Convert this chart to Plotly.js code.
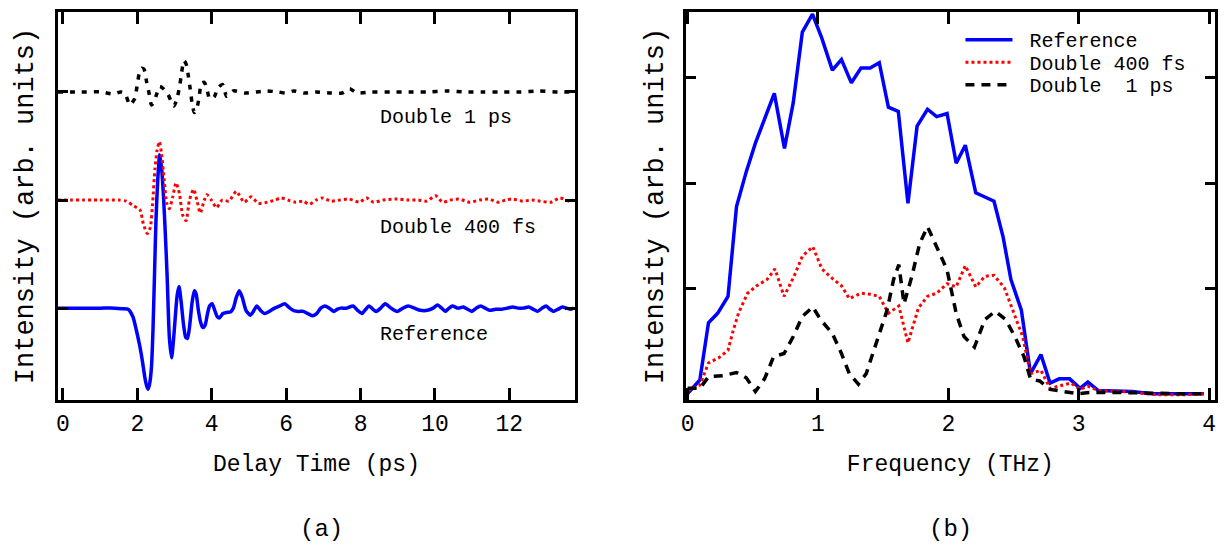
<!DOCTYPE html>
<html>
<head>
<meta charset="utf-8">
<script src="https://cdn.plot.ly/plotly-3.0.1.min.js"></script>
<style>html,body{margin:0;padding:0;background:#fff;}</style>
</head>
<body>
<div id="chart" style="width:1229px;height:555px;"></div>
<script>
// ---------- (a) time domain ----------
const refTime = [-0.14,0.5,1.0,1.4,1.6,1.75,1.88,1.97,2.07,2.14,2.20,2.25,2.29,2.33,2.38,2.42,2.46,2.50,2.55,2.60,2.65,2.70,2.75,2.80,2.86,2.92,2.97,3.02,3.07,3.12,3.18,3.24,3.30,3.35,3.41,3.47,3.53,3.58,3.64,3.70,3.76,3.82,3.88,3.94,4.01,4.08,4.15,4.21,4.30,4.40,4.50,4.58,4.66,4.74,4.82,4.92,5.04,5.12,5.21,5.31,5.42,5.55,5.69,5.83,5.96,6.10,6.22,6.34,6.46,6.58,6.70,6.82,6.93,7.04,7.16,7.28,7.38,7.47,7.63,7.80,7.92,8.04,8.14,8.23,8.33,8.42,8.54,8.66,8.82,8.99,9.14,9.28,9.45,9.61,9.80,9.95,10.07,10.18,10.28,10.38,10.47,10.62,10.76,10.88,10.99,11.11,11.23,11.35,11.47,11.63,11.80,11.95,12.09,12.23,12.37,12.52,12.64,12.76,12.88,12.99,13.09,13.19,13.31,13.43,13.54,13.64,13.72];
const refSignal = [0,0,0,0,-0.005,-0.01,-0.08,-0.2,-0.36,-0.5,-0.64,-0.72,-0.75,-0.70,-0.54,-0.2,0.3,0.81,1.2,1.42,1.3,1.05,0.7,0.3,-0.27,-0.46,-0.3,-0.08,0.12,0.2,0.05,-0.15,-0.27,-0.28,-0.15,0.05,0.16,0.13,-0.02,-0.13,-0.18,-0.16,-0.06,0.02,0.04,-0.02,-0.08,-0.09,-0.05,-0.04,-0.035,0.0,0.1,0.16,0.1,-0.02,-0.065,-0.03,0.02,-0.02,-0.05,-0.03,0.0,0.02,0.04,0.0,-0.025,-0.03,-0.03,-0.05,-0.07,-0.05,0.0,0.02,0.0,-0.03,-0.01,0.0,0.0,0.02,-0.02,-0.05,-0.01,0.02,-0.01,-0.03,0.0,0.04,0.0,-0.03,0.0,0.02,0.0,-0.02,-0.02,0.0,0.03,0.0,-0.03,0.0,0.02,0.0,0.01,-0.01,-0.03,0.0,0.02,0.0,-0.02,-0.01,-0.01,0.0,0.01,0.0,0.0,0.01,-0.01,-0.03,0.0,0.02,-0.01,-0.03,-0.01,0.01,0.0,-0.01,0.0];

const d400Time = [-0.14,1.0,1.5,1.7,1.88,2.07,2.16,2.27,2.35,2.41,2.47,2.53,2.59,2.65,2.72,2.79,2.86,2.95,3.04,3.13,3.22,3.31,3.40,3.51,3.60,3.69,3.80,3.87,3.99,4.13,4.28,4.46,4.66,4.87,5.06,5.25,5.49,5.70,5.87,6.05,6.25,6.45,6.63,6.80,6.97,7.21,7.45,7.69,7.97,8.16,8.35,8.6,8.92,9.3,9.55,9.78,10.02,10.21,10.42,10.64,10.93,11.2,11.45,11.69,11.9,12.07,12.36,12.6,12.83,13.12,13.36,13.6,13.72];
const d400Signal = [0,0,0,-0.01,-0.05,-0.09,-0.22,-0.31,-0.25,-0.03,0.28,0.46,0.54,0.43,0.19,-0.03,-0.08,0.03,0.16,0.06,-0.14,-0.19,0.0,0.10,0.0,-0.12,0.0,0.05,0.0,-0.07,0.0,-0.01,0.08,-0.02,0.03,-0.03,-0.02,0.0,0.02,0.0,-0.02,-0.01,-0.04,0.0,0.02,-0.01,0.0,0.01,-0.02,0.02,-0.02,0.0,0.01,0.0,0.0,-0.01,0.04,-0.02,0.0,0.01,-0.02,0.0,0.01,-0.02,0.0,0.01,-0.01,0.0,-0.01,-0.02,0.02,-0.01,0.0];

const d1Time = [-0.14,0.5,1.04,1.35,1.55,1.66,1.80,1.93,1.99,2.05,2.12,2.18,2.25,2.32,2.38,2.45,2.51,2.6,2.70,2.82,2.98,3.06,3.14,3.19,3.25,3.31,3.37,3.42,3.47,3.53,3.6,3.66,3.72,3.80,3.87,3.94,4.06,4.17,4.29,4.40,4.58,4.89,5.19,5.47,5.79,6.0,6.2,6.5,6.8,7.2,7.5,7.71,7.9,8.3,8.8,9.3,9.8,10.3,10.8,11.3,11.8,12.3,12.8,13.3,13.72];
const d1Signal = [0,0,0,-0.02,0,-0.01,-0.12,-0.06,0.05,0.17,0.22,0.21,0.09,-0.02,-0.12,-0.09,-0.03,0.05,0.03,-0.02,-0.13,-0.07,0.06,0.18,0.29,0.26,0.15,0.03,-0.1,-0.19,-0.15,-0.05,0.08,0.09,0.03,-0.06,-0.05,0.04,0.07,-0.04,0.01,-0.01,0.0,0.01,0.0,-0.01,0.01,-0.01,0.0,-0.01,-0.01,0.03,-0.01,0.0,0.0,0.0,0.0,0.01,0.0,0.0,0.0,0.0,0.01,0.0,0.0];

const timeTicks = [0,2,4,6,8,10,12];
const traceOffsets = {ref:0, d400:1, d1:2};

// ---------- (b) frequency domain ----------
const refFreq = [0.0,0.094,0.16,0.23,0.31,0.375,0.45,0.52,0.665,0.743,0.81,0.88,0.958,1.03,1.11,1.18,1.256,1.33,1.40,1.47,1.54,1.616,1.69,1.76,1.84,1.91,1.99,2.06,2.13,2.21,2.28,2.35,2.42,2.48,2.56,2.63,2.71,2.78,2.85,2.93,3.01,3.07,3.15,3.41,3.56,3.96];
const refSpec = [0.01,0.14,0.68,0.77,0.93,1.78,2.11,2.38,2.85,2.33,2.76,3.43,3.60,3.37,3.07,3.17,2.95,3.09,3.09,3.14,2.72,2.68,1.81,2.54,2.70,2.63,2.66,2.19,2.36,1.91,1.87,1.83,1.49,1.09,0.80,0.20,0.38,0.11,0.15,0.15,0.06,0.12,0.04,0.03,0.01,0.01];

const d400Freq = [0.0,0.094,0.16,0.24,0.31,0.35,0.39,0.46,0.53,0.61,0.67,0.74,0.82,0.88,0.96,1.03,1.10,1.18,1.24,1.33,1.40,1.47,1.54,1.62,1.69,1.77,1.84,1.91,1.99,2.06,2.13,2.21,2.28,2.35,2.43,2.50,2.57,2.63,2.71,2.78,2.85,2.94,3.01,3.07,3.15,3.35,3.60,3.83,3.96];
const d400Spec = [0.04,0.09,0.30,0.35,0.42,0.61,0.77,0.96,1.03,1.09,1.19,0.93,1.13,1.31,1.40,1.19,1.11,1.03,0.91,0.96,0.95,0.93,0.77,0.84,0.49,0.82,0.93,0.96,1.05,1.02,1.22,1.02,1.12,1.13,1.01,0.77,0.55,0.20,0.23,0.06,0.08,0.11,0.05,0.08,0.04,0.03,0.0,0.0,0.01];

const d1Freq = [0.0,0.094,0.16,0.27,0.375,0.45,0.52,0.59,0.66,0.74,0.81,0.88,0.96,1.02,1.11,1.18,1.24,1.31,1.37,1.45,1.53,1.58,1.62,1.66,1.72,1.78,1.84,1.91,1.99,2.06,2.12,2.20,2.28,2.36,2.44,2.51,2.58,2.63,2.70,2.78,2.87,2.99,3.08,3.35,3.76,3.96];
const d1Spec = [0.06,0.06,0.17,0.18,0.21,0.16,0.03,0.15,0.36,0.39,0.55,0.74,0.83,0.71,0.58,0.39,0.20,0.10,0.20,0.49,0.80,1.09,1.23,0.86,1.12,1.43,1.59,1.40,1.18,0.77,0.55,0.45,0.71,0.79,0.71,0.55,0.36,0.15,0.13,0.05,0.03,0.01,0.02,0.02,0.01,0.01];

const freqTicks = [0,1,2,3,4];
const seriesNames = ['Reference', 'Double 400 fs', 'Double  1 ps'];
const panelLabels = ['(a)', '(b)'];

const FONT = 'Liberation Mono, DejaVu Sans Mono, monospace';
const BLUE = 'rgb(0,0,255)', RED = 'rgb(255,0,0)', BLACK = 'rgb(0,0,0)';

function shift(arr, off) { return arr.map(v => v + off); }

const traces = [
  {x: refTime, y: shift(refSignal, traceOffsets.ref), xaxis:'x', yaxis:'y', mode:'lines', showlegend:false,
   line:{color:BLUE, width:3.5, shape:'spline', smoothing:0.6}},
  {x: d400Time, y: shift(d400Signal, traceOffsets.d400), xaxis:'x', yaxis:'y', mode:'lines', showlegend:false,
   line:{color:RED, width:3, dash:'dot', shape:'spline', smoothing:0.6}},
  {x: d1Time, y: shift(d1Signal, traceOffsets.d1), xaxis:'x', yaxis:'y', mode:'lines', showlegend:false,
   line:{color:BLACK, width:3.5, dash:'5px,7px', shape:'spline', smoothing:0.6}},
  {x: refFreq, y: refSpec, xaxis:'x2', yaxis:'y2', mode:'lines', name: seriesNames[0],
   line:{color:BLUE, width:3.5}},
  {x: d400Freq, y: d400Spec, xaxis:'x2', yaxis:'y2', mode:'lines', name: seriesNames[1],
   line:{color:RED, width:3, dash:'dot'}},
  {x: d1Freq, y: d1Spec, xaxis:'x2', yaxis:'y2', mode:'lines', name: seriesNames[2],
   line:{color:BLACK, width:3.5, dash:'9px,7px'}}
];

const axisCommon = {
  showline:true, linewidth:3, linecolor:BLACK, mirror:'ticks',
  ticks:'inside', tickwidth:3, tickcolor:BLACK,
  showgrid:false, zeroline:false,
  tickfont:{family:FONT, size:23, color:BLACK}
};

const layout = {
  width:1229, height:555,
  margin:{l:0, r:0, t:12, b:155},
  paper_bgcolor:'#fff', plot_bgcolor:'#fff',
  font:{family:FONT, color:BLACK},
  xaxis: Object.assign({}, axisCommon, {
    domain:[0.047, 0.468], range:[-0.14, 13.77], tickvals: timeTicks, ticklen:12,
    anchor:'y',
    title:{text:'Delay Time (ps)', font:{family:FONT, size:23, color:BLACK}, standoff:19}
  }),
  yaxis: Object.assign({}, axisCommon, {
    domain:[0,1], range:[-0.85, 2.74], tickvals:[0,1,2], showticklabels:false, ticklen:10,
    anchor:'x',
    title:{text:'Intensity (arb. units)', font:{family:FONT, size:27, color:BLACK}, standoff:14}
  }),
  xaxis2: Object.assign({}, axisCommon, {
    domain:[0.558, 0.9886], range:[-0.014, 4.045], tickvals: freqTicks, ticklen:12,
    anchor:'y2',
    title:{text:'Frequency (THz)', font:{family:FONT, size:23, color:BLACK}, standoff:19}
  }),
  yaxis2: Object.assign({}, axisCommon, {
    domain:[0,1], range:[-0.05, 3.62], tickvals:[1,2,3], showticklabels:false, ticklen:10,
    anchor:'x2',
    title:{text:'Intensity (arb. units)', font:{family:FONT, size:27, color:BLACK}, standoff:12}
  }),
  showlegend:true,
  legend:{x:0.7815, xanchor:'left', y:0.979, yanchor:'top', bgcolor:'rgba(0,0,0,0)',
          itemwidth:59, font:{family:FONT, size:20, color:BLACK}, tracegroupgap:0},
  annotations:[
    {xref:'x', yref:'y', x:8.47, y:1.76, xanchor:'left', yanchor:'middle', showarrow:false,
     text: seriesNames[2].replace('  ',' '), font:{family:FONT, size:20, color:BLACK}},
    {xref:'x', yref:'y', x:8.47, y:0.75, xanchor:'left', yanchor:'middle', showarrow:false,
     text: seriesNames[1], font:{family:FONT, size:20, color:BLACK}},
    {xref:'x', yref:'y', x:8.47, y:-0.24, xanchor:'left', yanchor:'middle', showarrow:false,
     text: seriesNames[0], font:{family:FONT, size:20, color:BLACK}},
    {xref:'paper', yref:'paper', x:0.262, y:-0.335, xanchor:'center', yanchor:'middle', showarrow:false,
     text: panelLabels[0], font:{family:FONT, size:24, color:BLACK}},
    {xref:'paper', yref:'paper', x:0.773, y:-0.335, xanchor:'center', yanchor:'middle', showarrow:false,
     text: panelLabels[1], font:{family:FONT, size:24, color:BLACK}}
  ]
};

Plotly.newPlot('chart', traces, layout, {displayModeBar:false, staticPlot:true}).then(function () {
  // tighten legend rows and lengthen the line samples to match the original figure
  const items = document.querySelectorAll('.legend .traces');
  let y0 = null;
  items.forEach(function (g, i) {
    const m = /translate\(([^,]+),\s*([^)]+)\)/.exec(g.getAttribute('transform') || '');
    if (!m) return;
    const x = parseFloat(m[1]);
    if (y0 === null) y0 = parseFloat(m[2]);
    g.setAttribute('transform', 'translate(' + x + ',' + (y0 + i * 22.5) + ')');
    g.querySelectorAll('path.js-line').forEach(function (p) { p.setAttribute('d', 'M5,0h47'); });
  });
});
</script>
</body>
</html>
